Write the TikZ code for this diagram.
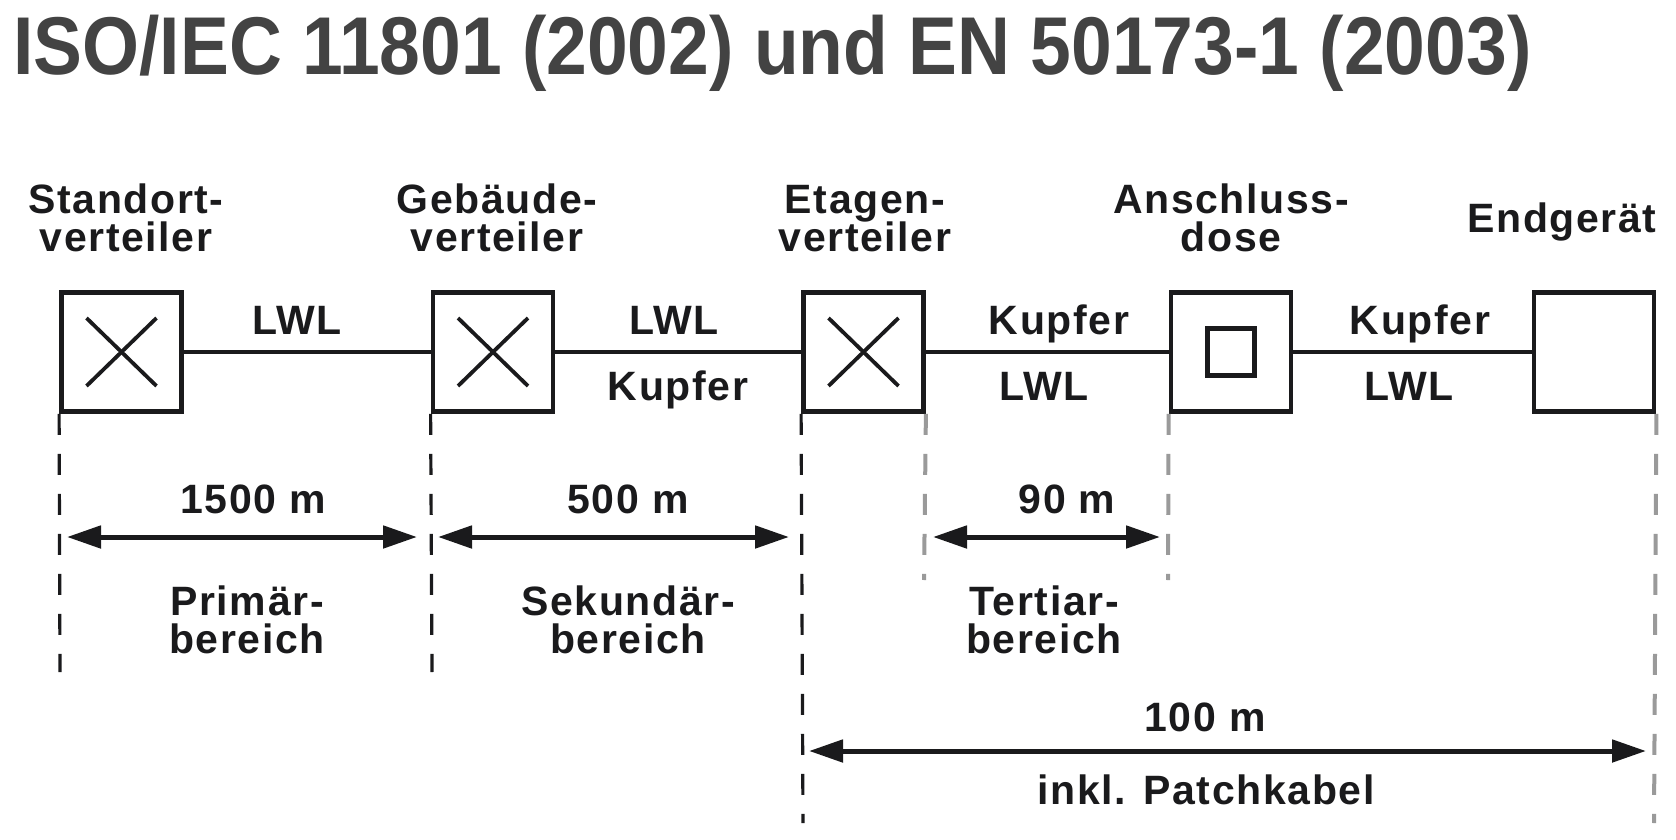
\documentclass[tikz,border=0pt]{standalone}
\usepackage{fontspec}
\setmainfont{Liberation Sans}
\newfontfamily\lblfont[LetterSpace=4]{Liberation Sans}
\newfontfamily\titlefnt[FakeStretch=0.893]{Liberation Sans}
\usetikzlibrary{arrows.meta}
\definecolor{ink}{HTML}{1A1A1C}
\definecolor{titlegray}{HTML}{434343}
\definecolor{dashgray}{HTML}{9A9A9A}
\begin{document}
\begin{tikzpicture}[x=0.5pt,y=-0.5pt,
  box/.style={draw=ink,line width=2.4pt,minimum width=60pt,minimum height=59.5pt,inner sep=0pt},
  xbox/.style={box,path picture={
      \draw[ink,line width=1.9pt]
        ([shift={(-17.5pt,-17pt)}]path picture bounding box.center) --
        ([shift={(17.5pt,17pt)}]path picture bounding box.center);
      \draw[ink,line width=1.9pt]
        ([shift={(-17.5pt,17pt)}]path picture bounding box.center) --
        ([shift={(17.5pt,-17pt)}]path picture bounding box.center);}},
  sbox/.style={box,path picture={
      \draw[ink,line width=2.4pt]
        ([shift={(-11.8pt,-11.8pt)}]path picture bounding box.center) rectangle
        ([shift={(11.8pt,11.8pt)}]path picture bounding box.center);}},
  cable/.style={draw=ink,line width=2.4pt},
  lbl/.style={inner sep=0pt,text depth=0pt,anchor=south,text=ink,align=center,
      font=\lblfont\bfseries\fontsize{20.5pt}{19.3pt}\selectfont},
  dimline/.style={draw=ink,line width=1.6pt,dash pattern=on 10.5pt off 9.5pt},
  dimlinegray/.style={dimline,draw=dashgray,line width=2pt},
  dimarrow/.style={draw=ink,line width=2.5pt,{Triangle[length=17pt,width=11pt]}-{Triangle[length=17pt,width=11pt]}}
]
\useasboundingbox (0,0) rectangle (1676,840);

% title
\node[inner sep=0pt,anchor=base west,text=titlegray,font=\titlefnt\bfseries\fontsize{41pt}{48pt}\selectfont]
  (title) at (13,75) {ISO/IEC 11801 (2002) und EN 50173-1 (2003)};

% boxes
\node[xbox] (b1) at (121.5,352) {};
\node[xbox] (b2) at (493,352) {};
\node[xbox] (b3) at (863.5,352) {};
\node[sbox] (b4) at (1231,352) {};
\node[box]  (b5) at (1594,352) {};

% cables
\draw[cable] (b1) -- (b2);
\draw[cable] (b2) -- (b3);
\draw[cable] (b3) -- (b4);
\draw[cable] (b4) -- (b5);

% top labels
\node[lbl] (t1) at (126,252) {Standort-\\verteiler};
\node[lbl] (t2) at (497,252) {Gebäude-\\verteiler};
\node[lbl] (t3) at (865,252) {Etagen-\\verteiler};
\node[lbl] (t4) at (1231,252) {Anschluss-\\dose};
\node[lbl,anchor=south east] (t5) at (1657,233) {Endgerät};

% cable labels
\node[lbl] (c1a) at (297,335) {LWL};
\node[lbl] (c2a) at (674,335) {LWL};
\node[lbl] (c2b) at (678,401) {Kupfer};
\node[lbl] (c3a) at (1059,335) {Kupfer};
\node[lbl] (c3b) at (1044,401) {LWL};
\node[lbl] (c4a) at (1420,335) {Kupfer};
\node[lbl] (c4b) at (1409,401) {LWL};

% dashed extension lines
\coordinate (e1) at (60,672);
\coordinate (e2) at (432,672);
\coordinate (e3) at (803,823);
\coordinate (e4) at (924,580);
\coordinate (e5) at (1168,580);
\coordinate (e6) at (1654,823);
\draw[dimline] (b1.south west) -- (e1);
\draw[dimline] (b2.south west) -- (e2);
\draw[dimline] (b3.south west) -- (e3);
\draw[dimlinegray] (b3.south east) -- (e4);
\draw[dimlinegray] (b4.south west) -- (e5);
\draw[dimlinegray] (b5.south east) -- (e6);

% dimension arrows
\coordinate (a1l) at (67,537);  \coordinate (a1r) at (417,537);
\coordinate (a2l) at (438,537); \coordinate (a2r) at (789,537);
\coordinate (a3l) at (933,537); \coordinate (a3r) at (1160,537);
\coordinate (a4l) at (809,751); \coordinate (a4r) at (1646,751);
\draw[dimarrow] (a1l) -- (a1r);
\draw[dimarrow] (a2l) -- (a2r);
\draw[dimarrow] (a3l) -- (a3r);
\draw[dimarrow] (a4l) -- (a4r);

% dimension labels
\node[lbl] (m1) at (253,514) {1500 m};
\node[lbl] (m2) at (628,514) {500 m};
\node[lbl] (m3) at (1067,514) {90 m};
\node[lbl] (m4) at (1205,732) {100 m};
\node[lbl] (m5) at (1206,805) {inkl. Patchkabel};
\node[lbl] (r1) at (247,654) {Primär-\\bereich};
\node[lbl] (r2) at (628,654) {Sekundär-\\bereich};
\node[lbl] (r3) at (1044,654) {Tertiar-\\bereich};
\end{tikzpicture}
\end{document}
